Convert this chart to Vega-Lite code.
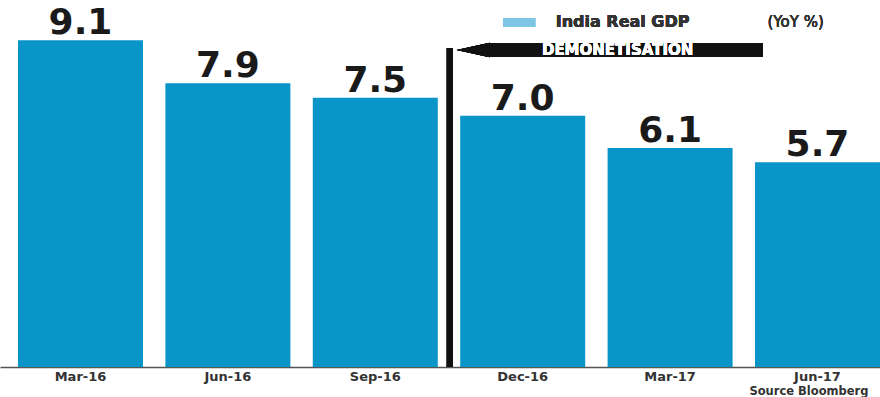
{
  "$schema": "https://vega.github.io/schema/vega-lite/v6.json",
  "width": 880,
  "height": 367,
  "autosize": {"type": "none"},
  "padding": {"left": 0, "top": 0, "right": 0, "bottom": 30},
  "background": "white",
  "config": {"view": {"stroke": null}},
  "data": {
    "values": [
      {"quarter": "Mar-16", "gdp": 9.1},
      {"quarter": "Jun-16", "gdp": 7.9},
      {"quarter": "Sep-16", "gdp": 7.5},
      {"quarter": "Dec-16", "gdp": 7.0},
      {"quarter": "Mar-17", "gdp": 6.1},
      {"quarter": "Jun-17", "gdp": 5.7}
    ]
  },
  "encoding": {
    "x": {
      "field": "quarter",
      "type": "nominal",
      "sort": null,
      "scale": {"paddingInner": 0.152, "paddingOuter": 0.061, "align": 1},
      "axis": {
        "title": "Source Bloomberg",
        "titleFont": "DejaVu Sans",
        "titleFontSize": 11.5,
        "titleFontWeight": "bold",
        "titleColor": "#333333",
        "titleAlign": "right",
        "titleAnchor": "end",
        "titleX": 868,
        "titleY": 27,
        "titleBaseline": "alphabetic",
        "labelAngle": 0,
        "labelFont": "DejaVu Sans",
        "labelFontSize": 13,
        "labelFontWeight": "bold",
        "labelColor": "#333333",
        "labelPadding": 3,
        "ticks": false,
        "domainColor": "#555555",
        "domainWidth": 1.5,
        "grid": false
      }
    }
  },
  "layer": [
    {
      "mark": {"type": "bar", "color": "#0a95c8"},
      "encoding": {
        "y": {"field": "gdp", "type": "quantitative", "scale": {"domain": [0, 10.22], "nice": false, "zero": true}, "axis": null}
      }
    },
    {
      "mark": {"type": "text", "font": "DejaVu Sans", "fontSize": 36, "fontWeight": "bold", "color": "#1a1a1a", "baseline": "alphabetic", "dy": -6},
      "encoding": {
        "y": {"field": "gdp", "type": "quantitative"},
        "text": {"field": "gdp", "type": "quantitative", "format": ".1f"}
      }
    },
    {
      "mark": {"type": "rule", "color": "#111111", "strokeWidth": 6, "xOffset": 12},
      "encoding": {
        "x": {"datum": "Sep-16", "bandPosition": 1},
        "y": {"datum": 0},
        "y2": {"datum": 8.88}
      }
    },
    {
      "mark": {"type": "rect", "color": "#111111", "xOffset": 28, "x2Offset": 30},
      "encoding": {
        "x": {"datum": "Dec-16", "bandPosition": 0},
        "x2": {"datum": "Mar-17", "bandPosition": 1},
        "y": {"datum": 9.025},
        "y2": {"datum": 8.63}
      }
    },
    {
      "mark": {"type": "point", "shape": "M-1,0L1,-0.44L1,0.44Z", "filled": true, "color": "#111111", "opacity": 1, "size": 1089, "xOffset": 13},
      "encoding": {
        "x": {"datum": "Dec-16", "bandPosition": 0},
        "y": {"datum": 8.83}
      }
    },
    {
      "mark": {"type": "text", "text": "DEMONETISATION", "font": "DejaVu Sans", "fontSize": 15, "fontWeight": "bold", "color": "white", "align": "center", "baseline": "middle", "xOffset": 10},
      "encoding": {
        "x": {"datum": "Mar-17", "bandPosition": 0},
        "y": {"datum": 8.83}
      }
    },
    {
      "mark": {"type": "point", "shape": "M-1,-0.28H1V0.28H-1Z", "filled": true, "color": "#7ec6e6", "opacity": 1, "size": 1024, "xOffset": -3.5},
      "encoding": {
        "x": {"datum": "Dec-16"},
        "y": {"datum": 9.596}
      }
    },
    {
      "mark": {"type": "text", "text": "India Real GDP", "font": "DejaVu Sans", "fontSize": 16, "fontWeight": "bold", "color": "#333333", "align": "left", "baseline": "middle", "xOffset": 33},
      "encoding": {
        "x": {"datum": "Dec-16"},
        "y": {"datum": 9.6}
      }
    },
    {
      "mark": {"type": "text", "text": "(YoY %)", "font": "DejaVu Sans", "fontSize": 15, "color": "#333333", "align": "left", "baseline": "middle", "xOffset": -50},
      "encoding": {
        "x": {"datum": "Jun-17"},
        "y": {"datum": 9.6}
      }
    }
  ]
}
